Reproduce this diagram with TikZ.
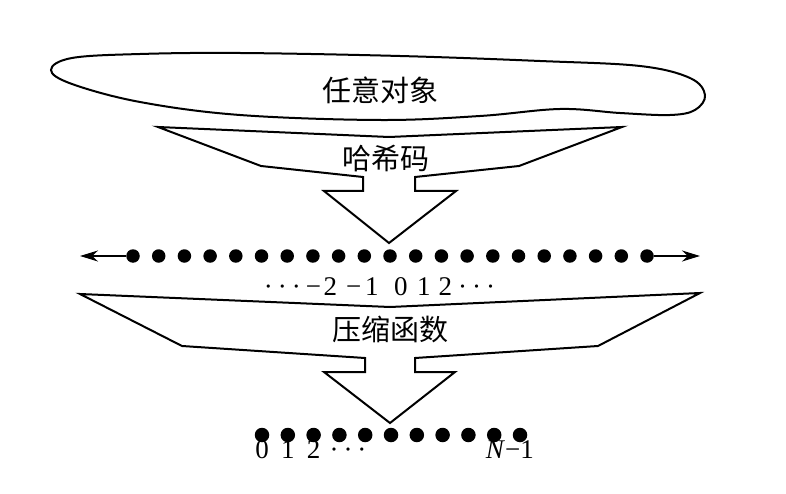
\documentclass[tikz,border=0pt]{standalone}
\usepackage{fontspec}
\setmainfont{Liberation Serif}
\newfontfamily\cjk{Noto Sans CJK SC}
\usetikzlibrary{arrows.meta}
\newcommand{\cdts}{·\hspace{5pt}·\hspace{5pt}·}

\begin{document}
\begin{tikzpicture}[x=1pt, y=-1pt,
    outline/.style={draw, line width=2pt, line join=miter},
    dot/.style={circle, fill, inner sep=0pt, minimum size=13.5pt},
    cjklabel/.style={font=\cjk\fontsize{29}{32}\selectfont, inner sep=0pt},
    num/.style={font=\fontsize{27}{29}\selectfont, inner sep=0pt},
    arrow/.style={-{Stealth[length=18pt, width=11pt]}, line width=2pt}
]
    \useasboundingbox (0,0) rectangle (786,494);

    % Arbitrary objects
    \draw[outline] plot[smooth cycle, tension=0.6] coordinates {
        (51,70) (72,58) (140,54) (240,53) (400,56) (540,61) (640,66)
        (690,78) (705,95) (695,110) (670,115) (620,113) (560,109)
        (480,116) (380,120) (240,115) (140,102) (72,84)};
    \node[cjklabel] (obj) at (380,90) {任意对象};

    % Hash code funnel
    \draw[outline] (158,127) -- (389,137) -- (622,127) -- (519,166)
        -- (415,177) -- (415,191) -- (456,191) -- (389,243) -- (324,191)
        -- (363,191) -- (363,177) -- (261,166) -- cycle;
    \node[cjklabel] (hash) at (386,158) {哈希码};

    % Integers
    \foreach \i in {-10,...,10}
        \node[dot] (a\i) at ({390+25.7*\i},256) {};
    \coordinate (tipL) at (80,256);
    \coordinate (tipR) at (700,256);
    \draw[arrow] (a-10) -- (tipL);
    \draw[arrow] (a10) -- (tipR);
    \node[num, anchor=base] (ints) at (379.5,295)
        {\cdts\hspace{5pt}−\hspace{2.7pt}2\hspace{9pt}−\hspace{3.7pt}1\hspace{15.5pt}0\hspace{9.5pt}1\hspace{8pt}2\hspace{6pt}\cdts};

    % Compression function funnel
    \draw[outline] (80,294) -- (390,307) -- (700,293) -- (598,346)
        -- (415,358) -- (415,372) -- (455,372) -- (390,423) -- (324,372)
        -- (365,372) -- (365,358) -- (182,346) -- cycle;
    \node[cjklabel] (comp) at (390,329) {压缩函数};

    % Buckets 0 .. N-1
    \foreach \i in {0,...,10}
        \node[dot, minimum size=14.5pt] (b\i) at ({262+25.8*\i},435) {};
    \foreach \i in {0,1,2}
        \node[num, anchor=base] (n\i) at ({262+25.8*\i},458) {\i};
    \node[num, anchor=base] (ndots) at (348,458) {\cdts};
    \node[num, anchor=base east] (nlast) at (534,458) {\textit{N}−1};

\end{tikzpicture}
\end{document}
